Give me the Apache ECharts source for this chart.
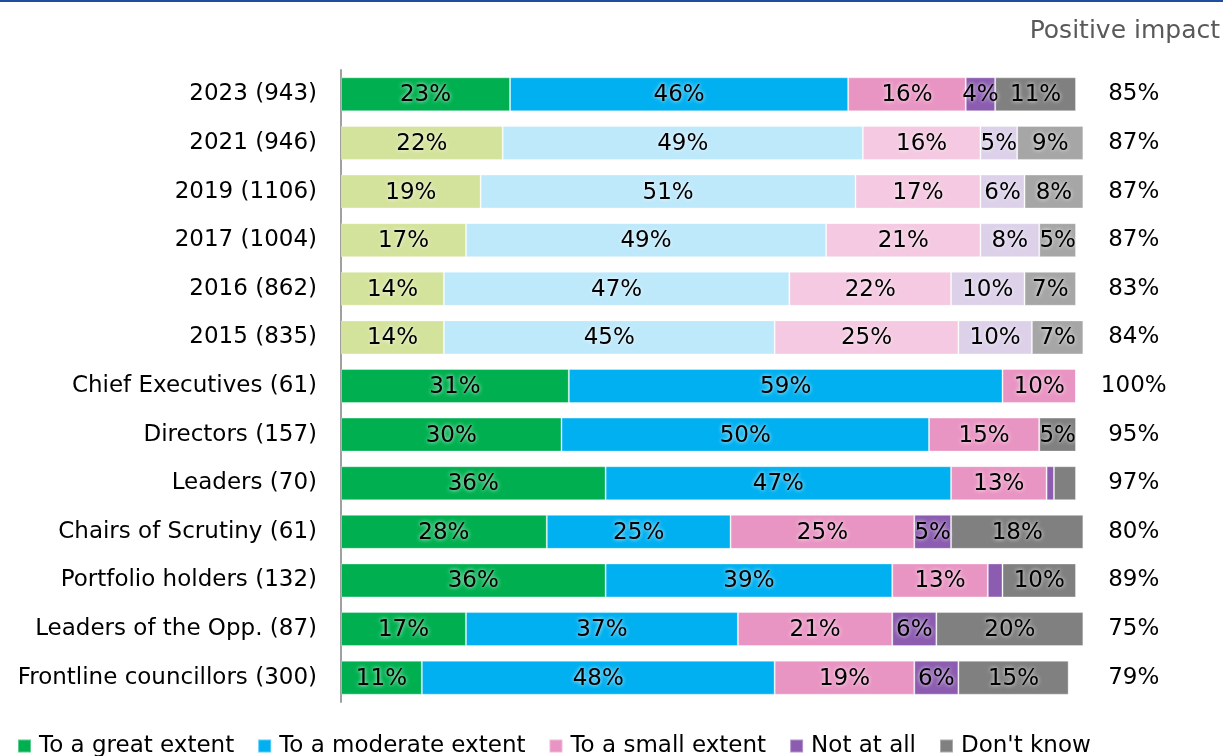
<!DOCTYPE html>
<html>
<head>
<meta charset="utf-8">
<script src="https://cdn.jsdelivr.net/npm/echarts@6/dist/echarts.min.js"></script>
<style>
  html, body { margin: 0; padding: 0; background: #ffffff; }
  #chart { width: 1223px; height: 756px; }
</style>
</head>
<body>
<div id="chart"></div>
<script>
// Survey groups, top to bottom
const categories = [
  '2023 (943)', '2021 (946)', '2019 (1106)', '2017 (1004)', '2016 (862)', '2015 (835)',
  'Chief Executives (61)', 'Directors (157)', 'Leaders (70)', 'Chairs of Scrutiny (61)',
  'Portfolio holders (132)', 'Leaders of the Opp. (87)', 'Frontline councillors (300)'
];

// Share of respondents (%) per answer
const greatExtent    = [23, 22, 19, 17, 14, 14, 31, 30, 36, 28, 36, 17, 11];
const moderateExtent = [46, 49, 51, 49, 47, 45, 59, 50, 47, 25, 39, 37, 48];
const smallExtent    = [16, 16, 17, 21, 22, 25, 10, 15, 13, 25, 13, 21, 19];
const notAtAll       = [ 4,  5,  6,  8, 10, 10,  0,  0,  1,  5,  2,  6,  6];
const dontKnow       = [11,  9,  8,  5,  7,  7,  0,  5,  3, 18, 10, 20, 15];

// Right-hand column: total positive impact
const positiveImpact = ['85%', '87%', '87%', '87%', '83%', '84%', '100%', '95%', '97%', '80%', '89%', '75%', '79%'];

const answerNames = ['To a great extent', 'To a moderate extent', 'To a small extent', 'Not at all', "Don't know"];

// Earlier survey years are shown in faded tones
const pastSurveyRows = ['2021 (946)', '2019 (1106)', '2017 (1004)', '2016 (862)', '2015 (835)'];

const FONT = 'DejaVu Sans';
const strongColors = ['#00B050', '#00B0F0', '#E995C3', '#8C5CB0', '#808080'];
const fadedColors  = ['#D3E39B', '#BDE9FB', '#F4C9E1', '#DCD1E9', '#A6A6A6'];

function buildSeries(values, k) {
  return {
    name: answerNames[k],
    type: 'bar',
    stack: 'total',
    yAxisIndex: 0,
    barWidth: 34,
    itemStyle: {
      color: strongColors[k],
      borderColor: 'rgba(255,255,255,0.35)',
      borderWidth: 1
    },
    label: {
      show: true,
      position: 'inside',
      offset: [0, 1],
      fontFamily: FONT,
      fontSize: 23,
      color: '#000',
      textShadowColor: 'rgba(255,255,255,0.95)',
      textShadowBlur: 4,
      formatter: p => (p.value >= 4 ? p.value + '%' : '')
    },
    data: values.map((v, i) => ({
      value: v,
      itemStyle: { color: pastSurveyRows.includes(categories[i]) ? fadedColors[k] : strongColors[k] }
    }))
  };
}

const chart = echarts.init(document.getElementById('chart'), null, { renderer: 'canvas' });

chart.setOption({
  animation: false,
  backgroundColor: '#ffffff',
  title: {
    text: 'Positive impact',
    right: 3,
    top: 19,
    padding: 0,
    textStyle: { fontFamily: FONT, fontSize: 25, fontWeight: 'normal', color: '#595959' }
  },
  graphic: [{
    type: 'rect',
    left: 0, top: 0,
    shape: { width: 1223, height: 2 },
    style: { fill: '#1F4E9E' }
  }],
  legend: {
    left: 17,
    top: 733,
    padding: 0,
    itemWidth: 13,
    itemHeight: 13,
    itemGap: 23,
    icon: 'rect',
    data: answerNames,
    textStyle: { fontFamily: FONT, fontSize: 23, color: '#000', lineHeight: 26, padding: [0, 0, 0, 3] }
  },
  grid: { left: 341, top: 70, right: 110.25, height: 632 },
  xAxis: {
    type: 'value',
    min: 0,
    max: 105,
    show: false
  },
  yAxis: [
    {
      type: 'category',
      data: categories,
      inverse: true,
      axisLine: { show: true, lineStyle: { color: '#A0A0A0', width: 2 } },
      axisTick: { show: false },
      axisLabel: { fontFamily: FONT, fontSize: 23, color: '#000', margin: 24, padding: [3, 0, 0, 0] }
    },
    {
      type: 'category',
      position: 'right',
      data: positiveImpact,
      inverse: true,
      axisLine: { show: false },
      axisTick: { show: false },
      axisLabel: { fontFamily: FONT, fontSize: 23, color: '#000', align: 'center', margin: 21, padding: [3, 0, 0, 0] }
    }
  ],
  series: [greatExtent, moderateExtent, smallExtent, notAtAll, dontKnow].map(buildSeries)
});
</script>
</body>
</html>
